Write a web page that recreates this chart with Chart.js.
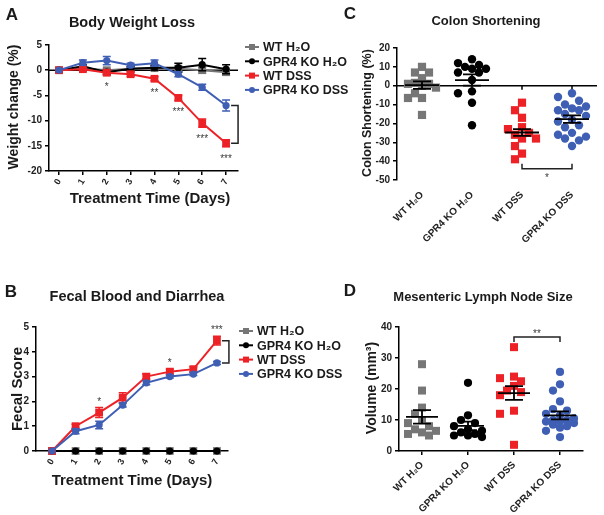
<!DOCTYPE html>
<html>
<head>
<meta charset="utf-8">
<title>GPR4 KO DSS colitis</title>
<script src="https://cdn.jsdelivr.net/npm/chart.js@4.4.1/dist/chart.umd.min.js"></script>
<style>
  html, body { margin: 0; padding: 0; background: #fff; }
  #fig { position: relative; width: 604px; height: 515px; overflow: hidden; }
  .panel { position: absolute; }
</style>
</head>
<body>
<div id="fig">
  <div class="panel" style="left:0;top:0"><canvas id="panel-a" width="362" height="215"></canvas></div>
  <div class="panel" style="left:0;top:250px"><canvas id="panel-b" width="362" height="250"></canvas></div>
  <div class="panel" style="left:340px;top:0"><canvas id="panel-c" width="264" height="250"></canvas></div>
  <div class="panel" style="left:340px;top:250px"><canvas id="panel-d" width="264" height="265"></canvas></div>
</div>
<script>
var days = [0, 1, 2, 3, 4, 5, 6, 7];
var groups = ['WT H\u2082O', 'GPR4 KO H\u2082O', 'WT DSS', 'GPR4 KO DSS'];

// A - body weight change (%), mean and SEM per day
var weightWT      = [0, 0.4, 0, 0.3, 0.4, 0.3, 0, -0.4];
var weightWTErr   = [0, 0.3, 0.3, 0.3, 0.4, 0.5, 0.6, 0.6];
var weightKO      = [0, 0.8, -0.4, 0.3, 0.5, 0.5, 1.1, 0.2];
var weightKOErr   = [0, 0.3, 0.4, 0.4, 0.5, 0.9, 1.2, 0.9];
var weightWTDSS   = [0, 0.2, -0.5, -0.8, -1.7, -5.5, -10.5, -14.5];
var weightWTDSSErr = [0, 0.3, 0.5, 0.4, 0.4, 0.5, 0.8, 0.7];
var weightKODSS   = [0, 1.5, 1.9, 1.0, 1.4, -0.8, -3.4, -7.0];
var weightKODSSErr = [0, 0.5, 0.8, 0.4, 0.6, 0.5, 0.6, 1.1];
var weightSig     = ['', '', '*', '', '**', '***', '***', '***'];

// B - fecal score, mean and SEM per day
var fecalWT       = [0, 0, 0, 0, 0, 0, 0, 0];
var fecalKO       = [0, 0, 0, 0, 0, 0, 0, 0];
var fecalZeroErr  = [0, 0, 0, 0, 0, 0, 0, 0];
var fecalWTDSS    = [0, 1.0, 1.55, 2.15, 3.0, 3.2, 3.3, 4.45];
var fecalWTDSSErr = [0, 0.08, 0.2, 0.2, 0.1, 0.1, 0.1, 0.18];
var fecalKODSS    = [0, 0.8, 1.05, 1.85, 2.75, 3.0, 3.1, 3.55];
var fecalKODSSErr = [0, 0.1, 0.15, 0.08, 0.08, 0.06, 0.06, 0.06];
var fecalSig      = ['', '', '*', '', '', '*', '', '***'];

// C - colon shortening (%), one value per mouse
var colonWT     = [10, 7, 7, 4, 1.5, 1, 1, 0, -1, -4, -6.5, -6.5, -15.5];
var colonKO     = [14, 12, 11, 10, 9, 9, 7, 7, 3, -3, -4, -9, -21];
var colonWTDSS  = [-9, -13, -17, -22, -23, -25, -26, -28, -28, -32, -36, -39];
var colonKODSS  = [-4, -6, -8, -10, -11, -12, -13, -13, -15, -16, -18, -19, -21, -22, -25, -26, -27, -28, -29, -32];
var colonMean   = [0.3, 3.0, -24.8, -17.7];
var colonSem    = [2.0, 3.0, 1.8, 2.0];

// D - mesenteric lymph node volume (mm3), one value per mouse
var lymphWT     = [28, 19.5, 14, 12, 10, 9, 8, 7, 6.5, 6, 5.5, 5];
var lymphKO     = [22, 11.5, 10, 9, 8, 7, 6.5, 6, 5.5, 5, 5, 4.5];
var lymphWTDSS  = [33.5, 24, 23.5, 22.5, 21, 19.5, 19, 18, 13, 12, 2];
var lymphKODSS  = [25.5, 21.5, 19.5, 16, 13.5, 13, 12, 11.5, 10.5, 10, 10, 9.5, 9.5, 9, 8.5, 8, 7.5, 6.5, 4.5];
var lymphMean   = [11.0, 8.1, 18.7, 11.5];
var lymphSem    = [2.2, 1.4, 2.2, 1.3];

var COLORS = ['#767676', '#000000', '#ec2227', '#3f5fb4'];
var SHAPES = ['rect', 'circle', 'rect', 'circle'];
var FAMILY = '"Liberation Sans", Arial, Helvetica, sans-serif';

function font(size, bold) {
  return (bold ? 'bold ' : '') + size + 'px ' + FAMILY;
}

function tickFont(size) {
  return { family: FAMILY, size: size, weight: 'bold' };
}

function axisLines() {
  return {
    grid: { display: true, drawOnChartArea: false, drawTicks: true, tickLength: 4, color: '#000', lineWidth: 1.5 },
    border: { display: true, color: '#000', width: 1.5 }
  };
}

// ---- small drawing plugins ----
function textPlugin(items) {
  return {
    id: 'panelText',
    afterDraw: function (chart) {
      var ctx = chart.ctx;
      items.forEach(function (t) {
        ctx.save();
        ctx.font = t.font;
        ctx.fillStyle = '#1a1a1a';
        ctx.textAlign = 'center';
        ctx.textBaseline = 'middle';
        ctx.translate(t.x, t.y);
        if (t.vertical) ctx.rotate(-Math.PI / 2);
        ctx.fillText(t.text, 0, 0);
        ctx.restore();
      });
    }
  };
}

function legendPlugin(x, y, gap) {
  return {
    id: 'seriesLegend',
    afterDraw: function (chart) {
      var ctx = chart.ctx;
      groups.forEach(function (name, i) {
        var cy = y + i * gap;
        ctx.save();
        ctx.strokeStyle = COLORS[i];
        ctx.fillStyle = COLORS[i];
        ctx.lineWidth = 2;
        ctx.beginPath();
        ctx.moveTo(x, cy);
        ctx.lineTo(x + 14, cy);
        ctx.stroke();
        ctx.beginPath();
        if (SHAPES[i] === 'rect') ctx.rect(x + 4, cy - 3, 6, 6);
        else ctx.arc(x + 7, cy, 3, 0, Math.PI * 2);
        ctx.fill();
        ctx.fillStyle = '#1a1a1a';
        ctx.font = font(12.5, true);
        ctx.textAlign = 'left';
        ctx.textBaseline = 'middle';
        ctx.fillText(name, x + 18, cy + 1);
        ctx.restore();
      });
    }
  };
}

function zeroLine(withTicks) {
  return {
    id: 'zeroLine',
    beforeDatasetsDraw: function (chart) {
      var ctx = chart.ctx, a = chart.chartArea;
      var y = chart.scales.y.getPixelForValue(0);
      ctx.save();
      ctx.strokeStyle = '#000';
      ctx.lineWidth = 1.5;
      ctx.beginPath();
      ctx.moveTo(a.left, y);
      ctx.lineTo(a.right, y);
      if (withTicks) {
        chart.scales.x.ticks.forEach(function (t) {
          var x = chart.scales.x.getPixelForValue(t.value);
          ctx.moveTo(x, y);
          ctx.lineTo(x, y + 4);
        });
      }
      ctx.stroke();
      ctx.restore();
    }
  };
}

var errorBars = {
  id: 'errorBars',
  afterDatasetDraw: function (chart, args) {
    var ds = chart.data.datasets[args.index];
    if (!ds.errors) return;
    var ctx = chart.ctx, ys = chart.scales.y;
    ctx.save();
    ctx.strokeStyle = ds.borderColor;
    ctx.lineWidth = 1.5;
    args.meta.data.forEach(function (pt, i) {
      var e = ds.errors[i];
      if (!e) return;
      var v = ds.data[i].y;
      var top = ys.getPixelForValue(v + e), bot = ys.getPixelForValue(v - e);
      ctx.beginPath();
      ctx.moveTo(pt.x, top); ctx.lineTo(pt.x, bot);
      ctx.moveTo(pt.x - 4, top); ctx.lineTo(pt.x + 4, top);
      ctx.moveTo(pt.x - 4, bot); ctx.lineTo(pt.x + 4, bot);
      ctx.stroke();
    });
    ctx.restore();
  }
};

// stars next to the WT DSS points and the bracket at day 7
function lineMarks(labels, below, starIdx, otherIdx) {
  return {
    id: 'lineMarks',
    afterDatasetsDraw: function (chart) {
      var ctx = chart.ctx, ys = chart.scales.y;
      var ds = chart.data.datasets[starIdx];
      var meta = chart.getDatasetMeta(starIdx);
      var other = chart.getDatasetMeta(otherIdx);
      ctx.save();
      ctx.fillStyle = '#3a3a3a';
      ctx.font = font(10, false);
      ctx.textAlign = 'center';
      ctx.textBaseline = 'alphabetic';
      labels.forEach(function (lab, i) {
        if (!lab) return;
        var v = ds.data[i].y, e = ds.errors[i];
        var cy = below ? ys.getPixelForValue(v - e) + 9 : ys.getPixelForValue(v + e) - 9;
        ctx.fillText(lab, meta.data[i].x, cy + 6);
      });
      var last = labels.length - 1;
      var p1 = meta.data[last], p2 = other.data[last];
      var bx = p1.x + 12;
      ctx.strokeStyle = '#222';
      ctx.lineWidth = 1.5;
      ctx.beginPath();
      ctx.moveTo(bx - 7, p1.y); ctx.lineTo(bx, p1.y);
      ctx.lineTo(bx, p2.y); ctx.lineTo(bx - 7, p2.y);
      ctx.stroke();
      ctx.restore();
    }
  };
}

function meanSem(means, sems, halfMean, halfCap) {
  return {
    id: 'meanSem',
    afterDatasetsDraw: function (chart) {
      var ctx = chart.ctx, xs = chart.scales.x, ys = chart.scales.y;
      ctx.save();
      ctx.strokeStyle = '#000';
      ctx.lineWidth = 1.8;
      means.forEach(function (m, i) {
        var cx = xs.getPixelForValue(i), my = ys.getPixelForValue(m);
        var t = ys.getPixelForValue(m + sems[i]), b = ys.getPixelForValue(m - sems[i]);
        ctx.beginPath();
        ctx.moveTo(cx - halfMean, my); ctx.lineTo(cx + halfMean, my);
        ctx.moveTo(cx, t); ctx.lineTo(cx, b);
        ctx.moveTo(cx - halfCap, t); ctx.lineTo(cx + halfCap, t);
        ctx.moveTo(cx - halfCap, b); ctx.lineTo(cx + halfCap, b);
        ctx.stroke();
      });
      ctx.restore();
    }
  };
}

// dir 1: ticks up, label under; dir -1: ticks down, label over
function catBracket(from, to, level, dir, label) {
  return {
    id: 'catBracket',
    afterDatasetsDraw: function (chart) {
      var ctx = chart.ctx, xs = chart.scales.x, ys = chart.scales.y;
      var x0 = xs.getPixelForValue(from), x1 = xs.getPixelForValue(to), y = ys.getPixelForValue(level);
      ctx.save();
      ctx.strokeStyle = '#222';
      ctx.lineWidth = 1.5;
      ctx.beginPath();
      ctx.moveTo(x0, y - dir * 5); ctx.lineTo(x0, y);
      ctx.lineTo(x1, y); ctx.lineTo(x1, y - dir * 5);
      ctx.stroke();
      ctx.fillStyle = '#3a3a3a';
      ctx.font = font(10, false);
      ctx.textAlign = 'center';
      ctx.textBaseline = 'alphabetic';
      ctx.fillText(label, (x0 + x1) / 2, y + dir * 6 + 6);
      ctx.restore();
    }
  };
}

// column scatter: each point takes the nearest free slot among a few
// sideways positions; if none is free it takes the least crowded one
function swarm(values, cat, pxX, pxY, diam, gap) {
  var slots = [0, -1, 1, -2, 2].map(function (k) { return k * gap; });
  var placed = [];
  values.slice().sort(function (a, b) { return b - a; }).forEach(function (v) {
    var best = 0, bestDist = -1;
    for (var s = 0; s < slots.length; s++) {
      var dx = slots[s], near = Infinity;
      placed.forEach(function (p) {
        var ddx = p.dx - dx, ddy = (p.v - v) * pxY;
        near = Math.min(near, Math.sqrt(ddx * ddx + ddy * ddy));
      });
      if (near >= diam) { best = dx; break; }
      if (near > bestDist) { bestDist = near; best = dx; }
    }
    placed.push({ dx: best, v: v });
  });
  return placed.map(function (p) { return { x: cat + p.dx / pxX, y: p.v }; });
}

function lineSeries(g, values, errors) {
  return {
    label: groups[g],
    data: days.map(function (d, i) { return { x: d, y: values[i] }; }),
    errors: errors,
    borderColor: COLORS[g],
    backgroundColor: COLORS[g],
    borderWidth: 2,
    pointStyle: SHAPES[g],
    pointRadius: SHAPES[g] === 'rect' ? 5.5 : 3.6,
    pointBorderWidth: 0,
    pointHoverRadius: 0,
    tension: 0,
    clip: false
  };
}

function dotSeries(g, values, pxX, pxY, radius) {
  return {
    label: groups[g],
    data: swarm(values, g, pxX, pxY, 8, 7),
    backgroundColor: COLORS[g],
    borderWidth: 0,
    pointStyle: SHAPES[g],
    pointRadius: SHAPES[g] === 'rect' ? radius * 1.38 : radius,
    pointHoverRadius: 0,
    clip: false
  };
}

function dayAxis(min, max, height) {
  var ax = axisLines();
  ax.type = 'linear';
  ax.min = min;
  ax.max = max;
  ax.afterBuildTicks = function (s) { s.ticks = days.map(function (d) { return { value: d }; }); };
  ax.afterFit = function (s) { s.height = height; };
  ax.ticks = { font: tickFont(9), color: '#222', minRotation: 60, maxRotation: 60, autoSkip: false, padding: 2 };
  return ax;
}

function valueAxis(min, max, step, width) {
  var ax = axisLines();
  ax.min = min;
  ax.max = max;
  ax.afterFit = function (s) { s.width = width; };
  ax.ticks = { stepSize: step, font: tickFont(10), color: '#222', padding: 3 };
  return ax;
}

function groupAxis(height, showLine) {
  var ax = showLine ? axisLines() : { grid: { display: false }, border: { display: false } };
  ax.type = 'linear';
  ax.min = -0.5;
  ax.max = 3.5;
  ax.afterBuildTicks = function (s) { s.ticks = groups.map(function (g, i) { return { value: i }; }); };
  ax.afterFit = function (s) { s.height = height; };
  ax.ticks = {
    font: tickFont(10), color: '#222', minRotation: 45, maxRotation: 45, autoSkip: false, padding: showLine ? 4 : 1,
    callback: function (v) { return groups[v]; }
  };
  return ax;
}

var baseOptions = function (padding, scales) {
  return {
    responsive: false,
    animation: false,
    events: [],
    layout: { padding: padding },
    plugins: { legend: { display: false }, tooltip: { enabled: false } },
    scales: scales
  };
};

// ---- A ----
new Chart(document.getElementById('panel-a'), {
  type: 'line',
  data: {
    datasets: [
      lineSeries(3, weightKODSS, weightKODSSErr),
      lineSeries(2, weightWTDSS, weightWTDSSErr),
      lineSeries(1, weightKO, weightKOErr),
      lineSeries(0, weightWT, weightWTErr)
    ]
  },
  options: baseOptions({ top: 45, right: 124, left: 0, bottom: 0 }, {
    x: dayAxis(-0.42, 7.5, 44),
    y: valueAxis(-20, 5, 5, 49)
  }),
  plugins: [
    zeroLine(false), errorBars, lineMarks(weightSig, true, 1, 0), legendPlugin(245, 47, 14.3),
    textPlugin([
      { text: 'A', x: 12, y: 15, font: font(17, true) },
      { text: 'Body Weight Loss', x: 132, y: 23, font: font(14.5, true) },
      { text: 'Weight change (%)', x: 14, y: 107, font: font(14, true), vertical: true },
      { text: 'Treatment Time (Days)', x: 150, y: 199, font: font(15, true) }
    ])
  ]
});

// ---- B ----
new Chart(document.getElementById('panel-b'), {
  type: 'line',
  data: {
    datasets: [
      lineSeries(3, fecalKODSS, fecalKODSSErr),
      lineSeries(2, fecalWTDSS, fecalWTDSSErr),
      lineSeries(1, fecalKO, fecalZeroErr),
      lineSeries(0, fecalWT, fecalZeroErr)
    ]
  },
  options: baseOptions({ top: 77, right: 134, left: 0, bottom: 0 }, {
    x: dayAxis(-0.68, 7.47, 49),
    y: valueAxis(0, 5, 1, 36)
  }),
  plugins: [
    errorBars, lineMarks(fecalSig, false, 1, 0), legendPlugin(239, 81, 14.3),
    textPlugin([
      { text: 'B', x: 11, y: 42, font: font(17, true) },
      { text: 'Fecal Blood and Diarrhea', x: 137, y: 47, font: font(14.5, true) },
      { text: 'Fecal Score', x: 18, y: 139, font: font(15, true), vertical: true },
      { text: 'Treatment Time (Days)', x: 132, y: 231, font: font(15, true) }
    ])
  ]
});

// ---- C ----
new Chart(document.getElementById('panel-c'), {
  type: 'scatter',
  data: {
    datasets: [
      dotSeries(0, colonWT, 50, 1.886, 4.2),
      dotSeries(1, colonKO, 50, 1.886, 4.2),
      dotSeries(2, colonWTDSS, 50, 1.886, 4.2),
      dotSeries(3, colonKODSS, 50, 1.886, 4.2)
    ]
  },
  options: baseOptions({ top: 48, right: 7, left: 0, bottom: 0 }, {
    x: groupAxis(70, false),
    y: valueAxis(-50, 20, 10, 57)
  }),
  plugins: [
    zeroLine(true), meanSem(colonMean, colonSem, 17, 9), catBracket(2, 3, -44, 1, '*'),
    textPlugin([
      { text: 'C', x: 10, y: 14, font: font(17, true) },
      { text: 'Colon Shortening', x: 146, y: 21, font: font(13, true) },
      { text: 'Colon Shortening (%)', x: 28, y: 113, font: font(12.5, true), vertical: true }
    ])
  ]
});

// ---- D ----
new Chart(document.getElementById('panel-d'), {
  type: 'scatter',
  data: {
    datasets: [
      dotSeries(0, lymphWT, 46, 3.1, 4.1),
      dotSeries(1, lymphKO, 46, 3.1, 4.1),
      dotSeries(2, lymphWTDSS, 46, 3.1, 4.1),
      dotSeries(3, lymphKODSS, 46, 3.1, 4.1)
    ]
  },
  options: baseOptions({ top: 77, right: 21, left: 0, bottom: 0 }, {
    x: groupAxis(64, true),
    y: valueAxis(0, 40, 10, 59)
  }),
  plugins: [
    meanSem(lymphMean, lymphSem, 16, 9), catBracket(2, 3, 36.8, -1, '**'),
    textPlugin([
      { text: 'D', x: 10, y: 41, font: font(17, true) },
      { text: 'Mesenteric Lymph Node Size', x: 143, y: 47, font: font(13, true) },
      { text: 'Volume (mm\u00b3)', x: 32, y: 138, font: font(14, true), vertical: true }
    ])
  ]
});
</script>
</body>
</html>
